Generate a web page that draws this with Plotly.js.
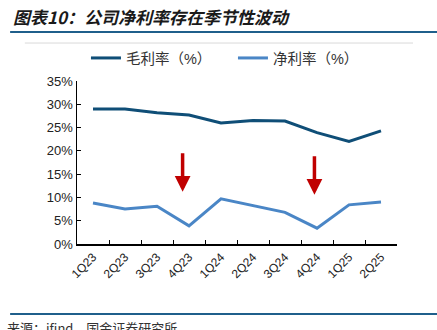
<!DOCTYPE html>
<html>
<head>
<meta charset="utf-8">
<script src="https://cdn.plot.ly/plotly-3.0.1.min.js"></script>
<style>html,body{margin:0;padding:0;background:#fff;}#chart{width:437px;height:330px;}</style>
</head>
<body>
<div id="chart"></div>
<script>
const categories = ['1Q23','2Q23','3Q23','4Q23','1Q24','2Q24','3Q24','4Q24','1Q25','2Q25'];
const grossMargin = [29.0, 29.0, 28.2, 27.7, 26.0, 26.5, 26.4, 23.9, 22.0, 24.3];
const netMargin = [8.8, 7.5, 8.1, 3.9, 9.7, 8.2, 6.8, 3.4, 8.4, 9.0];
const yTickVals = [0,5,10,15,20,25,30,35];
const yTickText = ['0%','5%','10%','15%','20%','25%','30%','35%'];
const seriesNames = ['毛利率（%）','净利率（%）'];
const arrowMarks = [{x: 2.8, y: 11.2}, {x: 6.92, y: 10.6}];

const traces = [
  {x: categories, y: grossMargin, name: seriesNames[0], type: 'scatter', mode: 'lines',
   line: {color: '#0f4e77', width: 3}},
  {x: categories, y: netMargin, name: seriesNames[1], type: 'scatter', mode: 'lines',
   line: {color: '#4a86c6', width: 3}}
];

const annotations = arrowMarks.map(a => ({
  x: a.x, y: a.y, xref: 'x', yref: 'y', text: '', showarrow: true,
  ax: 0, ay: -40, arrowhead: 2, arrowsize: 0.9, arrowwidth: 3.5, arrowcolor: '#c00000'
}));
annotations.push({
  xref: 'paper', yref: 'paper', x: -0.206, y: 1.393, xanchor: 'left', yanchor: 'middle',
  text: '图表10：公司净利率存在季节性波动', showarrow: false,
  font: {family: '"Noto Sans CJK SC", sans-serif', size: 17, color: '#1a1a1a', weight: 700, style: 'italic'}
});
annotations.push({
  xref: 'paper', yref: 'paper', x: -0.225, y: -0.515, xanchor: 'left', yanchor: 'middle',
  text: '来源：ifind，国金证券研究所', showarrow: false,
  font: {family: '"Noto Sans CJK SC", sans-serif', size: 13, color: '#333'}
});

const layout = {
  width: 437, height: 330,
  margin: {l: 77, r: 40, t: 81, b: 86},
  paper_bgcolor: '#fff', plot_bgcolor: '#fff',
  showlegend: true,
  legend: {orientation: 'h', x: 0.028, xanchor: 'left', y: 1.141, yanchor: 'middle',
    bgcolor: 'rgba(0,0,0,0)', entrywidth: 102, entrywidthmode: 'pixels',
    font: {family: 'Arial, "Noto Sans CJK SC", sans-serif', size: 14.5, color: '#333'},
    itemwidth: 30, tracegroupgap: 0},
  xaxis: {type: 'category', showline: true, linecolor: '#000', linewidth: 1.5,
    ticks: 'inside', ticklen: 4, tickcolor: '#000', tickson: 'boundaries',
    tickangle: -45, showgrid: false, zeroline: false,
    tickfont: {family: 'Arial, sans-serif', size: 12, color: '#222'},
    range: [-0.5, 9.5]},
  yaxis: {range: [0, 35], tickvals: yTickVals, ticktext: yTickText,
    showline: true, linecolor: '#000', linewidth: 1.5, ticks: 'inside', ticklen: 4,
    tickcolor: '#000', showgrid: false, zeroline: false,
    tickfont: {family: 'Arial, sans-serif', size: 13, color: '#222'}},
  shapes: [
    {type: 'line', xref: 'paper', yref: 'paper', x0: -0.209, x1: 1.13, y0: 1.30, y1: 1.30,
     line: {color: '#1f5f8b', width: 2}},
    {type: 'line', xref: 'paper', yref: 'paper', x0: -0.163, x1: 1.05, y0: 1.233, y1: 1.233,
     line: {color: '#d9d9d9', width: 1}},
    {type: 'line', xref: 'paper', yref: 'paper', x0: -0.209, x1: 1.13, y0: -0.429, y1: -0.429,
     line: {color: '#1f5f8b', width: 2}}
  ],
  annotations: annotations
};

Plotly.newPlot('chart', traces, layout, {displayModeBar: false, staticPlot: true});
</script>
</body>
</html>
